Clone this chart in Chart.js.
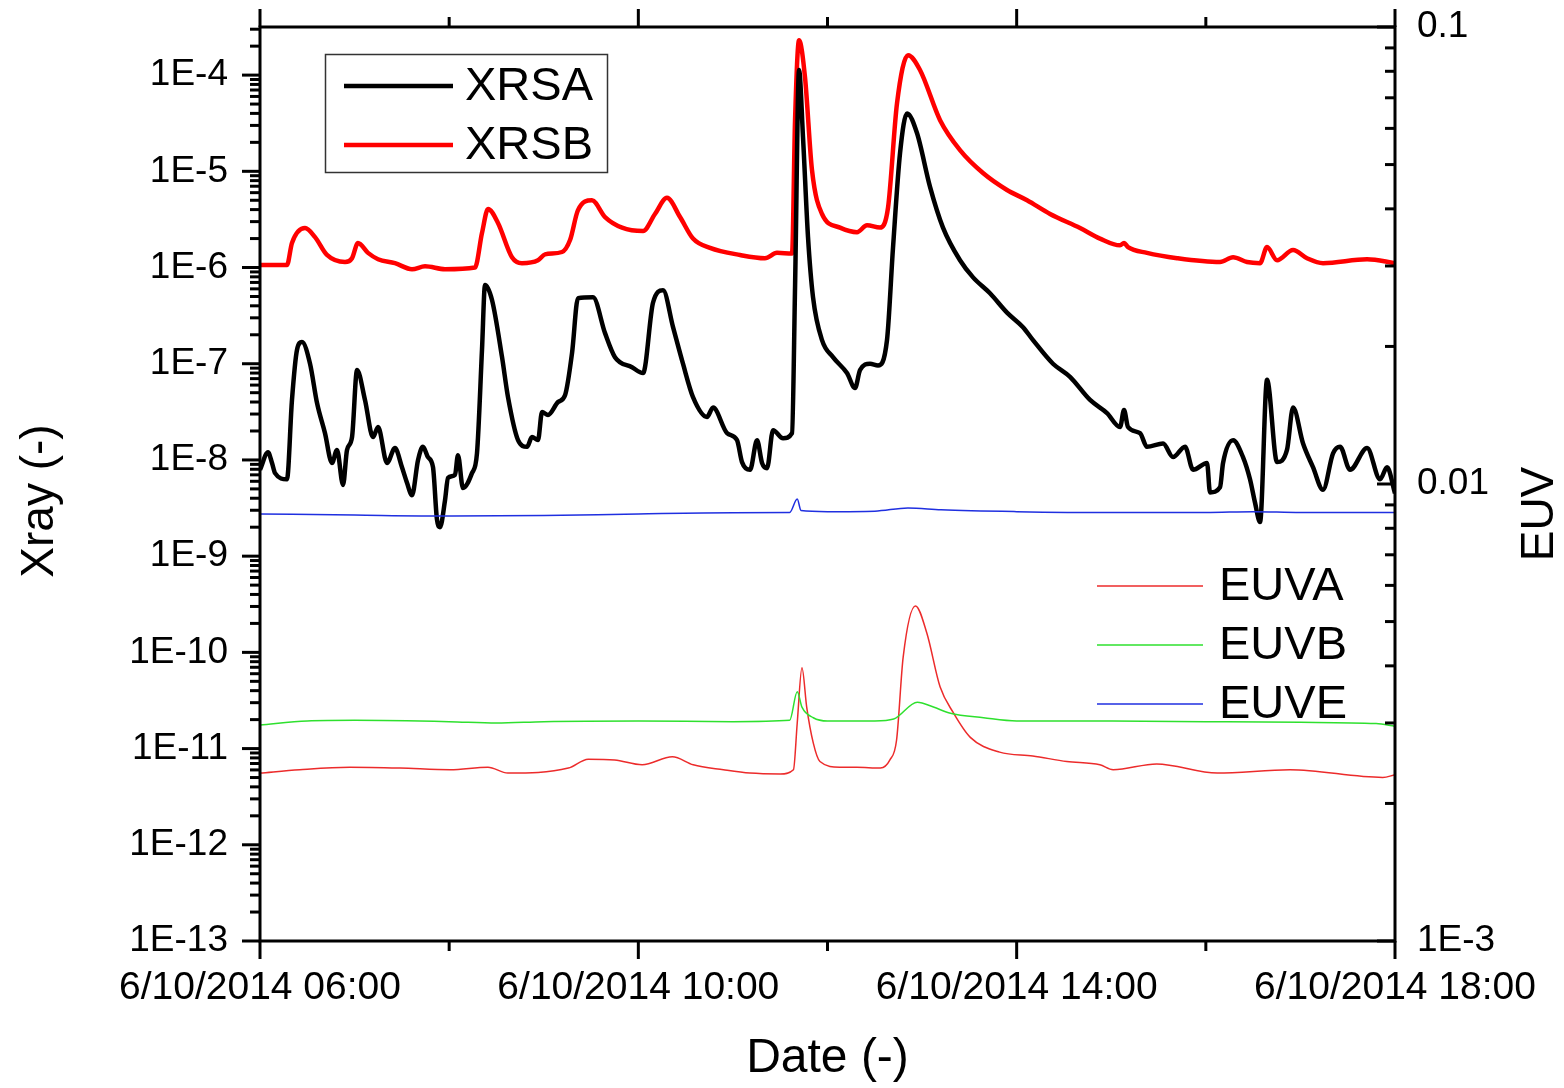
<!DOCTYPE html>
<html>
<head>
<meta charset="utf-8">
<script src="https://cdn.jsdelivr.net/npm/chart.js@4.4.1/dist/chart.umd.min.js"></script>
<style>
  html, body { margin: 0; padding: 0; background: #fff; }
  #wrap { width: 1564px; height: 1088px; }
</style>
</head>
<body>
<div id="wrap"><canvas id="chart-1" width="1564" height="1088"></canvas></div>
<script>
// time in decimal hours on 6/10/2014
const xrsaHours = [
  6.00, 6.085, 6.127, 6.159, 6.285, 6.338, 6.391, 6.444, 6.529, 6.603,
  6.687, 6.761, 6.814, 6.878, 6.920, 6.973, 7.026, 7.110, 7.195, 7.248,
  7.343, 7.427, 7.501, 7.554, 7.607, 7.671, 7.723, 7.776, 7.829, 7.871,
  7.903, 7.956, 7.988, 8.062, 8.093, 8.146, 8.241, 8.294, 8.347, 8.379,
  8.453, 8.559, 8.622, 8.728, 8.823, 8.876, 8.939, 8.982, 9.045, 9.151,
  9.225, 9.299, 9.362, 9.521, 9.648, 9.753, 9.933, 10.050, 10.155, 10.261,
  10.367, 10.472, 10.578, 10.726, 10.790, 10.938, 11.043, 11.096, 11.181, 11.255,
  11.308, 11.361, 11.424, 11.530, 11.625, 11.657, 11.699, 11.741, 11.794, 11.847,
  11.942, 12.058, 12.206, 12.291, 12.344, 12.450, 12.534, 12.629, 12.693, 12.767,
  12.841, 12.946, 13.084, 13.221, 13.401, 13.539, 13.718, 13.898, 14.067, 14.173,
  14.384, 14.564, 14.776, 14.955, 15.093, 15.135, 15.177, 15.304, 15.378, 15.548,
  15.653, 15.780, 15.865, 16.013, 16.044, 16.150, 16.182, 16.288, 16.393, 16.467,
  16.520, 16.573, 16.647, 16.753, 16.858, 16.922, 17.028, 17.133, 17.239, 17.345,
  17.419, 17.525, 17.705, 17.842, 17.916, 18.000
];
const xrsaValues = [
  7.9e-9, 1.2e-8, 9.3e-9, 7.3e-9, 6.3e-9, 4.2e-8, 1.39e-7, 1.68e-7, 1.0e-7, 3.9e-8,
  1.9e-8, 9.3e-9, 1.27e-8, 5.5e-9, 1.27e-8, 1.73e-8, 8.6e-8, 4.2e-8, 1.73e-8, 2.2e-8,
  9.3e-9, 1.33e-8, 8.4e-9, 5.8e-9, 4.3e-9, 1.0e-8, 1.37e-8, 1.07e-8, 8.4e-9, 2.4e-9,
  2.0e-9, 3.8e-9, 6.5e-9, 7.0e-9, 1.12e-8, 5.1e-9, 7.3e-9, 1.17e-8, 1.39e-7, 6.6e-7,
  4.6e-7, 1.17e-7, 4.5e-8, 1.61e-8, 1.37e-8, 1.73e-8, 1.61e-8, 3.15e-8, 2.94e-8, 4.0e-8,
  4.7e-8, 1.29e-7, 4.8e-7, 4.9e-7, 2.08e-7, 1.17e-7, 9.2e-8, 8.0e-8, 4.3e-7, 5.8e-7,
  2.4e-7, 1.0e-7, 4.5e-8, 2.8e-8, 3.5e-8, 1.9e-8, 1.61e-8, 9.5e-9, 7.9e-9, 1.6e-8,
  9.3e-9, 8.2e-9, 2.04e-8, 1.68e-8, 1.9e-8, 6.3e-7, 1.13e-4, 2.27e-5, 2.07e-6, 4.9e-7,
  1.76e-7, 1.17e-7, 8.0e-8, 5.6e-8, 8.6e-8, 1.0e-7, 9.6e-8, 1.76e-7, 1.63e-6, 1.55e-5,
  4.0e-5, 2.5e-5, 6.9e-6, 2.6e-6, 1.19e-6, 7.9e-7, 5.4e-7, 3.4e-7, 2.4e-7, 1.76e-7,
  1.0e-7, 7.3e-8, 4.2e-8, 3.07e-8, 2.2e-8, 3.3e-8, 2.2e-8, 1.9e-8, 1.37e-8, 1.48e-8,
  1.07e-8, 1.37e-8, 7.9e-9, 9.3e-9, 4.6e-9, 5.2e-9, 9.3e-9, 1.6e-8, 1.07e-8, 6.3e-9,
  3.6e-9, 2.26e-9, 6.8e-8, 9.5e-9, 1.27e-8, 3.5e-8, 1.48e-8, 8.4e-9, 4.9e-9, 1.17e-8,
  1.37e-8, 7.9e-9, 1.33e-8, 6.3e-9, 8.4e-9, 4.5e-9
];

const xrsbHours = [
  6.00, 6.285, 6.338, 6.476, 6.582, 6.708, 6.899, 6.973, 7.036, 7.142,
  7.248, 7.427, 7.607, 7.745, 7.956, 8.273, 8.347, 8.411, 8.516, 8.664,
  8.770, 8.939, 9.013, 9.193, 9.278, 9.362, 9.510, 9.648, 9.828, 10.050,
  10.176, 10.303, 10.441, 10.578, 10.758, 11.075, 11.339, 11.466, 11.625, 11.657,
  11.699, 11.762, 11.836, 11.942, 12.132, 12.312, 12.418, 12.555, 12.640, 12.735,
  12.851, 12.978, 13.190, 13.401, 13.644, 13.898, 14.110, 14.353, 14.670, 14.881,
  15.093, 15.135, 15.177, 15.378, 15.696, 16.150, 16.288, 16.436, 16.573, 16.647,
  16.753, 16.922, 17.070, 17.239, 17.705, 18.000
];
const xrsbValues = [
  1.06e-6, 1.06e-6, 1.8e-6, 2.57e-6, 2.07e-6, 1.35e-6, 1.14e-6, 1.25e-6, 1.8e-6, 1.42e-6,
  1.22e-6, 1.11e-6, 9.6e-7, 1.03e-6, 9.6e-7, 1.0e-6, 2.28e-6, 4.05e-6, 2.9e-6, 1.28e-6,
  1.11e-6, 1.19e-6, 1.37e-6, 1.45e-6, 1.93e-6, 3.95e-6, 5.0e-6, 3.35e-6, 2.6e-6, 2.4e-6,
  3.6e-6, 5.3e-6, 3.35e-6, 2.0e-6, 1.6e-6, 1.35e-6, 1.25e-6, 1.42e-6, 1.4e-6, 3.4e-5,
  2.3e-4, 9.5e-5, 1.03e-5, 3.6e-6, 2.6e-6, 2.33e-6, 2.75e-6, 2.6e-6, 4.2e-6, 5.1e-5,
  1.61e-4, 1.13e-4, 3.4e-5, 1.66e-5, 9.6e-6, 6.4e-6, 5.0e-6, 3.6e-6, 2.57e-6, 2.0e-6,
  1.7e-6, 1.8e-6, 1.63e-6, 1.42e-6, 1.25e-6, 1.14e-6, 1.28e-6, 1.14e-6, 1.11e-6, 1.63e-6,
  1.19e-6, 1.52e-6, 1.25e-6, 1.11e-6, 1.22e-6, 1.11e-6
];

const euvaHours = [
  6.00, 6.42, 6.95, 7.48, 8.01, 8.41, 8.62, 9.26, 9.47, 9.75,
  10.04, 10.36, 10.58, 10.90, 11.18, 11.50, 11.64, 11.68, 11.73, 11.78,
  11.85, 11.92, 12.13, 12.31, 12.56, 12.66, 12.73, 12.80, 12.93, 13.05,
  13.19, 13.33, 13.51, 13.82, 14.17, 14.53, 14.88, 15.02, 15.48, 16.12,
  16.89, 17.87, 18.00
];
const euvaValues = [
  0.00233, 0.00237, 0.00240, 0.00239, 0.00237, 0.00240, 0.00233, 0.00239, 0.00250, 0.00249,
  0.00243, 0.00253, 0.00243, 0.00237, 0.00233, 0.00232, 0.00237, 0.00300, 0.00396, 0.00325,
  0.00271, 0.00247, 0.00240, 0.00240, 0.00239, 0.00249, 0.00275, 0.00418, 0.00541, 0.00472,
  0.00360, 0.00316, 0.00279, 0.00259, 0.00254, 0.00247, 0.00243, 0.00237, 0.00244, 0.00233,
  0.00237, 0.00228, 0.00231
];

const euvbHours = [
  6.00, 6.5, 7.0, 8.0, 8.5, 9.0, 10.0, 11.0, 11.6, 11.68,
  11.73, 11.85, 12.0, 12.5, 12.7, 12.95, 13.12, 13.3, 13.65, 14.0,
  15.0, 16.0, 17.0, 17.8, 18.0
];
const euvbValues = [
  0.00297, 0.00303, 0.00304, 0.00302, 0.00300, 0.00302, 0.00303, 0.00302, 0.00304, 0.00351,
  0.00325, 0.00308, 0.00303, 0.00303, 0.00306, 0.00333, 0.00325, 0.00315, 0.00308, 0.00303,
  0.00303, 0.00302, 0.00301, 0.00299, 0.00295
];

const euveHours = [
  6.00, 7.0, 8.0, 9.0, 10.0, 11.0, 11.6, 11.68, 11.72, 12.0,
  12.5, 12.85, 13.2, 14.0, 15.0, 16.0, 16.5, 17.0, 18.0
];
const euveValues = [
  0.00860, 0.00855, 0.00851, 0.00853, 0.00860, 0.00865, 0.00866, 0.00927, 0.00875, 0.00870,
  0.00872, 0.00886, 0.00878, 0.00870, 0.00866, 0.00866, 0.00870, 0.00866, 0.00866
];

const xTickHours = [6, 10, 14, 18];
const xMinorHours = [8, 12, 16];
const xTickLabels = ["6/10/2014 06:00", "6/10/2014 10:00", "6/10/2014 14:00", "6/10/2014 18:00"];
const xrayTicks = [1e-13, 1e-12, 1e-11, 1e-10, 1e-9, 1e-8, 1e-7, 1e-6, 1e-5, 1e-4];
const xrayTickLabels = ["1E-13", "1E-12", "1E-11", "1E-10", "1E-9", "1E-8", "1E-7", "1E-6", "1E-5", "1E-4"];
const euvTicks = [1e-3, 1e-2, 1e-1];
const euvTickLabels = ["1E-3", "0.01", "0.1"];

const FONT = '"Liberation Sans", Arial, sans-serif';

const toPoints = (xs, ys) => xs.map((h, i) => ({ x: h, y: ys[i] }));

// frame, ticks, legends and side titles drawn on top, Origin style
const originFrame = {
  id: "originFrame",
  afterDraw(chart) {
    const { ctx, chartArea: a, scales } = chart;
    const line = (x1, y1, x2, y2) => {
      ctx.beginPath();
      ctx.moveTo(x1, y1);
      ctx.lineTo(x2, y2);
      ctx.stroke();
    };
    ctx.save();
    ctx.strokeStyle = "#000";
    ctx.lineWidth = 3;
    ctx.strokeRect(a.left, a.top, a.right - a.left, a.bottom - a.top);

    xTickHours.forEach((h) => {
      const x = scales.x.getPixelForValue(h);
      line(x, a.bottom, x, a.bottom + 18);
      line(x, a.top, x, a.top - 18);
    });
    xMinorHours.forEach((h) => {
      const x = scales.x.getPixelForValue(h);
      line(x, a.bottom, x, a.bottom + 10);
      line(x, a.top, x, a.top - 10);
    });

    for (let e = -13; e <= -4; e++) {
      for (let m = 1; m <= 9; m++) {
        const v = m * Math.pow(10, e);
        if (v > scales.y.max * 1.001) continue;
        const y = scales.y.getPixelForValue(v);
        line(a.left - (m === 1 ? 18 : 10), y, a.left, y);
      }
    }
    for (let e = -3; e <= -1; e++) {
      for (let m = 1; m <= 9; m++) {
        const v = m * Math.pow(10, e);
        if (v > scales.y2.max * 1.001) continue;
        const y = scales.y2.getPixelForValue(v);
        line(a.right - (m === 1 ? 18 : 10), y, a.right, y);
      }
    }

    // legends
    const ds = chart.data.datasets;
    ctx.lineWidth = 1.5;
    ctx.strokeStyle = "#333";
    ctx.strokeRect(325.5, 54.5, 282, 118);
    ctx.font = "47px " + FONT;
    ctx.fillStyle = "#000";
    ctx.textAlign = "left";
    ctx.textBaseline = "middle";
    const legendRow = (d, x1, x2, y, tx) => {
      ctx.strokeStyle = d.borderColor;
      ctx.lineWidth = d.borderWidth;
      line(x1, y, x2, y);
      ctx.fillText(d.label, tx, y + 1);
    };
    const byLabel = (l) => ds.find((d) => d.label === l);
    legendRow(byLabel("XRSA"), 344, 453, 86, 465);
    legendRow(byLabel("XRSB"), 344, 453, 145, 465);
    legendRow(byLabel("EUVA"), 1097, 1203, 586, 1219);
    legendRow(byLabel("EUVB"), 1097, 1203, 645, 1219);
    legendRow(byLabel("EUVE"), 1097, 1203, 704, 1219);

    // side titles, both read bottom to top
    ctx.font = "46px " + FONT;
    ctx.textAlign = "center";
    ctx.fillStyle = "#000";
    ctx.save();
    ctx.translate(40, 501);
    ctx.rotate(-Math.PI / 2);
    ctx.fillText("Xray (-)", 0, 0);
    ctx.restore();
    ctx.save();
    ctx.translate(1540, 514);
    ctx.rotate(-Math.PI / 2);
    ctx.fillText("EUV", 0, 0);
    ctx.restore();
    ctx.restore();
  },
};

const noPad = (s) => {
  s.paddingTop = 0;
  s.paddingBottom = 0;
  s.paddingLeft = 0;
  s.paddingRight = 0;
};

const chart1 = new Chart(document.getElementById("chart-1"), {
  type: "line",
  data: {
    datasets: [
      { label: "XRSA", data: toPoints(xrsaHours, xrsaValues), borderColor: "#000000", borderWidth: 4.5, yAxisID: "y", order: 4 },
      { label: "XRSB", data: toPoints(xrsbHours, xrsbValues), borderColor: "#ff0000", borderWidth: 4.5, yAxisID: "y", order: 5 },
      { label: "EUVA", data: toPoints(euvaHours, euvaValues), borderColor: "#ec2b2b", borderWidth: 1.5, yAxisID: "y2", order: 3 },
      { label: "EUVB", data: toPoints(euvbHours, euvbValues), borderColor: "#2ee02e", borderWidth: 1.5, yAxisID: "y2", order: 2 },
      { label: "EUVE", data: toPoints(euveHours, euveValues), borderColor: "#1f2fe0", borderWidth: 1.5, yAxisID: "y2", order: 1 },
    ],
  },
  options: {
    responsive: false,
    animation: false,
    devicePixelRatio: 1,
    layout: { padding: { top: 27, left: 0, right: 0, bottom: 0 } },
    elements: {
      point: { radius: 0 },
      line: { cubicInterpolationMode: "monotone", fill: false, borderJoinStyle: "round" },
    },
    plugins: { legend: { display: false }, tooltip: { enabled: false } },
    scales: {
      x: {
        type: "linear",
        position: "bottom",
        min: 6,
        max: 18,
        grid: { display: false, drawTicks: false },
        border: { display: false },
        afterBuildTicks: (s) => { s.ticks = xTickHours.map((v) => ({ value: v })); },
        afterFit: (s) => { s.height = 147; noPad(s); },
        ticks: {
          autoSkip: false,
          maxRotation: 0,
          padding: 24,
          color: "#000",
          font: { family: FONT, size: 39 },
          callback: (v, i) => xTickLabels[i],
        },
        title: {
          display: true,
          text: "Date (-)",
          color: "#000",
          font: { family: FONT, size: 48 },
          padding: { top: 0, bottom: 0 },
        },
      },
      y: {
        type: "logarithmic",
        position: "left",
        min: 1e-13,
        max: Math.pow(10, -3.5),
        grid: { display: false, drawTicks: false },
        border: { display: false },
        afterBuildTicks: (s) => { s.ticks = xrayTicks.map((v) => ({ value: v })); },
        afterFit: (s) => { s.width = 260; noPad(s); },
        ticks: {
          autoSkip: false,
          padding: 32,
          color: "#000",
          font: { family: FONT, size: 37 },
          callback: (v, i) => xrayTickLabels[i],
        },
      },
      y2: {
        type: "logarithmic",
        position: "right",
        min: 1e-3,
        max: 1e-1,
        grid: { display: false, drawTicks: false },
        border: { display: false },
        afterBuildTicks: (s) => { s.ticks = euvTicks.map((v) => ({ value: v })); },
        afterFit: (s) => { s.width = 169; noPad(s); },
        ticks: {
          autoSkip: false,
          padding: 22,
          color: "#000",
          font: { family: FONT, size: 37 },
          callback: (v, i) => euvTickLabels[i],
        },
      },
    },
  },
  plugins: [originFrame],
});
</script>
</body>
</html>
